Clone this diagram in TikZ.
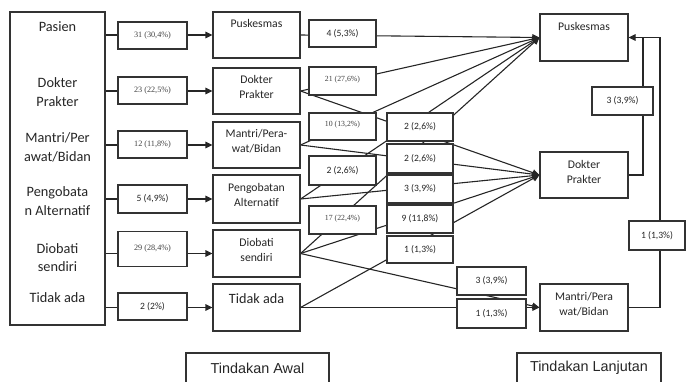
\documentclass[tikz,border=0pt]{standalone}
\usepackage{fontspec}
\setmainfont{Carlito}
\newfontfamily\arialf{Liberation Sans}
\newfontfamily\timesf{Liberation Serif}
\usetikzlibrary{arrows.meta,backgrounds}
\newcommand{\lift}[2]{\raisebox{#1}[0pt][0pt]{#2}}
\newcommand{\twol}[2]{\begin{tabular}{@{}c@{}}#1\\#2\end{tabular}}
\begin{document}
\begin{tikzpicture}[x=1pt,y=-1pt,
  ln/.style={draw=black!85, line width=1.1pt},
  arr/.style={ln, -{Triangle[length=7pt,width=6.5pt]}},
  bx/.style={draw=black!80, line width=1.1pt, fill=white, inner sep=0pt, rectangle, text=black!85},
  wh/.style 2 args={minimum width=#1pt, minimum height=#2pt},
  lt/.style={font=\fontsize{14.3}{18.5}\selectfont, align=center, inner sep=0pt, text=black!85},
  mf/.style={font=\fontsize{11.7}{15}\selectfont},
  sf/.style={font=\timesf\fontsize{8.2}{10}\selectfont, text=black!75},
  sfs/.style={font=\timesf\fontsize{7.8}{10}\selectfont, text=black!75},
  nf/.style={font=\fontsize{9.6}{11}\selectfont},
  af/.style={font=\arialf\fontsize{14.4}{17}\selectfont}
]
\useasboundingbox (0,0) rectangle (686,381);
\clip (0,0) rectangle (686,381);

% left column
\node[bx, wh={95}{313}] (L) at (57.5,168.5) {};
\node[lt] (l1) at (57.5,27) {Pasien};
\node[lt] (l2) at (57.5,92) {Dokter\\Prakter};
\node[lt] (l3) at (57.5,147.5) {Mantri/Per\\awat/Bidan};
\node[lt] (l4) at (57.5,201) {Pengobata\\n Alternatif};
\node[lt] (l5) at (57.5,257.5) {Diobati\\sendiri};
\node[lt] (l6) at (57.5,298) {Tidak ada};

% first counts
\node[bx, wh={69}{27}, sf] (c1) at (152.5,35.5) {31 (30,4\%)};
\node[bx, wh={69}{27}, sf] (c2) at (152.5,90.5) {23 (22,5\%)};
\node[bx, wh={69}{27}, sf] (c3) at (152.5,144.5) {12 (11,8\%)};
\node[bx, wh={69}{28}, nf] (c4) at (152.5,199) {5 (4,9\%)};
\node[bx, wh={69}{35}, sf] (c5) at (152.5,249) {29 (28,4\%)};
\node[bx, wh={69}{27}, nf] (c6) at (152.5,306.5) {2 (2\%)};

% Tindakan awal boxes
\node[bx, wh={87}{46}, mf] (b1) at (256.5,35) {\lift{7.4pt}{Puskesmas}};
\node[bx, wh={87}{46}, mf] (b2) at (256.5,91) {\lift{0pt}{\twol{Dokter}{Prakter}}};
\node[bx, wh={87}{46}, mf] (b3) at (256.5,145) {\lift{0pt}{\twol{Mantri/Pera-}{wat/Bidan}}};
\node[bx, wh={87}{48}, mf] (b4) at (256.5,199) {\lift{0pt}{\twol{Pengobatan}{Alternatif}}};
\node[bx, wh={87}{47}, mf] (b5) at (256.5,253.5) {\lift{0pt}{\twol{Diobati}{sendiri}}};
\node[bx, wh={87}{47}, font=\fontsize{14.2}{17}\selectfont] (b6) at (256.5,307.5) {\lift{4pt}{Tidak ada}};

% third column labels
\node[bx, wh={67}{27}, nf] (d1) at (342.5,33.5) {4 (5,3\%)};
\node[bx, wh={67}{28}, sfs] (d2) at (342.5,81) {\lift{0pt}{21 (27,6\%)}};
\node[bx, wh={67}{27}, sfs] (d3) at (342.5,126.5) {\lift{0pt}{10 (13,2\%)}};
\node[bx, wh={67}{29}, nf] (d4) at (342.5,170.5) {2 (2,6\%)};
\node[bx, wh={67}{28}, sfs] (d5) at (342.5,220) {\lift{0pt}{17 (22,4\%)}};

% fourth column labels
\node[bx, wh={66}{28}, nf] (e1) at (420,127) {2 (2,6\%)};
\node[bx, wh={66}{29}, nf] (e2) at (420,158.5) {2 (2,6\%)};
\node[bx, wh={66}{28}, nf] (e3) at (420,189) {3 (3,9\%)};
\node[bx, wh={66}{28}, nf] (e4) at (420,219) {9 (11,8\%)};
\node[bx, wh={66}{27}, nf] (e5) at (420,249.5) {1 (1,3\%)};

% lower labels
\node[bx, wh={69}{28}, nf] (f1) at (491.5,281) {3 (3,9\%)};
\node[bx, wh={69}{29}, nf] (f2) at (491.5,313.5) {1 (1,3\%)};

% Tindakan lanjutan boxes
\node[bx, wh={88}{47}, mf] (r1) at (584,37.5) {\lift{7pt}{Puskesmas}};
\node[bx, wh={88}{46}, mf] (r2) at (584,175) {\lift{-1.4pt}{\twol{Dokter}{Prakter}}};
\node[bx, wh={88}{47}, mf] (r3) at (584,307.5) {\lift{0pt}{\twol{Mantri/Pera}{wat/Bidan}}};

% feedback labels
\node[bx, wh={61}{28}, nf] (g1) at (622.5,101) {3 (3,9\%)};
\node[bx, wh={56}{29}, nf] (g2) at (657,235.5) {1 (1,3\%)};
\coordinate (k1) at (643,37.5);
\coordinate (k2) at (660,37.5);

% bottom titles
\node[bx, wh={143}{30}, af] (t1) at (257.5,368) {Tindakan Awal};
\node[bx, wh={144}{30}, af] (t2) at (589,368) {Tindakan Lanjutan};

\begin{pgfonlayer}{background}
  \foreach \i in {1,...,6} \draw[arr] (L.east |- b\i.west) -- (b\i.west);
  \draw[arr] (b1.east) -- (r1.west);
  \draw[arr] (b2.east) -- (r1.west);
  \draw[arr] (b3.east) -- (r1.west);
  \draw[arr] (b4.east) -- (r1.west);
  \draw[arr] (b5.east) -- (r1.west);
  \draw[arr] (b2.east) -- (r2.west);
  \draw[arr] (b3.east) -- (r2.west);
  \draw[arr] (b4.east) -- (r2.west);
  \draw[arr] (b5.east) -- (r2.west);
  \draw[arr] (b6.east) -- (r2.west);
  \draw[arr] (b5.east) -- (r3.west);
  \draw[arr] (b6.east) -- (r3.west);
  \draw[ln] (r2.east) -| (k1);
  \draw[arr] (r3.east) -| (k2) -- (r1.east);
\end{pgfonlayer}
\end{tikzpicture}
\end{document}
